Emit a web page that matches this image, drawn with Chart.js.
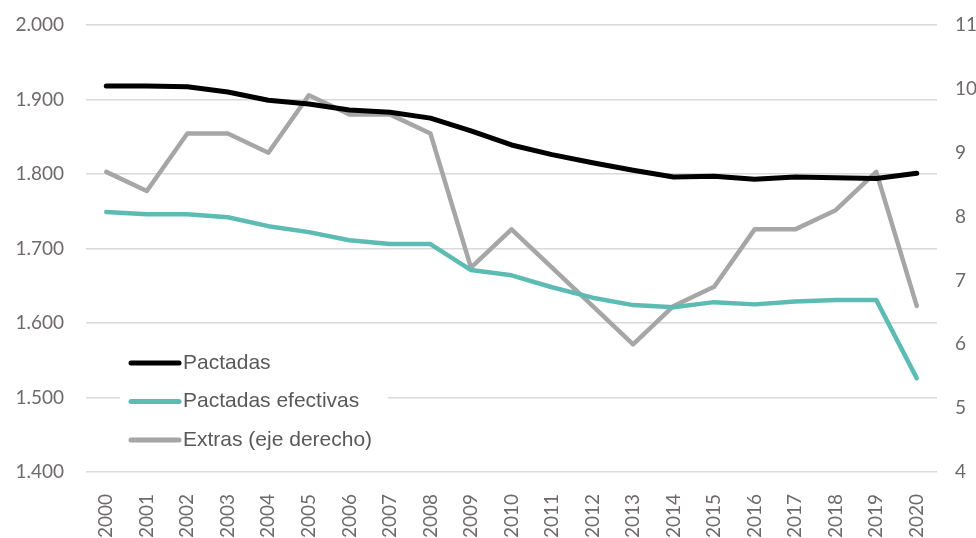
<!DOCTYPE html>
<html>
<head>
<meta charset="utf-8">
<script src="https://cdn.jsdelivr.net/npm/chart.js@4.4.1/dist/chart.umd.min.js"></script>
<style>
  html, body { margin: 0; padding: 0; background: #fff; overflow: hidden; }
  #wrap { width: 976px; height: 538px; overflow: hidden; }
</style>
</head>
<body>
<div id="wrap"><canvas id="chart" width="976" height="560"></canvas></div>
<script>
// Data
const years = ['2000','2001','2002','2003','2004','2005','2006','2007','2008','2009','2010',
               '2011','2012','2013','2014','2015','2016','2017','2018','2019','2020'];
const pactadas = [1918,1918,1917,1910,1899,1894,1886,1883,1875,1858,1839,
                  1826,1815,1805,1796,1797,1793,1796,1795,1794,1801];
const efectivas = [1749,1746,1746,1742,1730,1722,1711,1706,1706,1671,1664,
                   1648,1634,1624,1621,1628,1625,1629,1631,1631,1526];
const extras = [8.7,8.4,9.3,9.3,9.0,9.9,9.6,9.6,9.3,7.2,7.8,
                7.2,6.6,6.0,6.6,6.9,7.8,7.8,8.1,8.7,6.6];

const TICK_FONT = { family: 'Lato, "Noto Sans", sans-serif', size: 19 };
const TICK_COLOR = '#6e6a6a';

function fmtThousands(v) {
  const s = String(Math.round(v));
  return s.replace(/\B(?=(\d{3})+(?!\d))/g, '.');
}

/* ============================================================
   Legend drawn inside the plot area, lower left
   ============================================================ */
const insideLegend = {
  id: 'insideLegend',
  afterDatasetsDraw(chart) {
    const c = chart.ctx;
    const x0 = 120, top = 342;
    c.save();
    c.fillStyle = '#ffffff';
    c.fillRect(x0, top, 268, 118);
    c.font = '21px "Liberation Sans", Arial, sans-serif';
    c.textBaseline = 'middle';
    chart.data.datasets.forEach((ds, i) => {
      const y = 363 + i * 38.5;
      c.strokeStyle = ds.borderColor;
      c.lineWidth = 5;
      c.lineCap = 'round';
      c.beginPath();
      c.moveTo(131, y);
      c.lineTo(179, y);
      c.stroke();
      c.fillStyle = '#595959';
      c.fillText(ds.label, 183, y);
    });
    c.restore();
  }
};

new Chart(document.getElementById('chart'), {
  type: 'line',
  data: {
    labels: years,
    datasets: [
      { label: 'Pactadas', data: pactadas, borderColor: '#000000', borderWidth: 5, yAxisID: 'y' },
      { label: 'Pactadas efectivas', data: efectivas, borderColor: '#5cbcb3', borderWidth: 4.5, yAxisID: 'y' },
      { label: 'Extras (eje derecho)', data: extras, borderColor: '#a6a6a6', borderWidth: 4.5, yAxisID: 'y2' }
    ]
  },
  options: {
    responsive: false,
    devicePixelRatio: 1,
    animation: false,
    elements: { point: { radius: 0 }, line: { tension: 0, borderCapStyle: 'round', borderJoinStyle: 'round' } },
    layout: { padding: { top: 25, left: 0, right: 0, bottom: 0 } },
    plugins: { legend: { display: false }, tooltip: { enabled: false } },
    scales: {
      x: {
        offset: true,
        grid: { display: false },
        border: { display: false },
        ticks: { font: TICK_FONT, color: TICK_COLOR, minRotation: 90, maxRotation: 90, padding: 14, autoSkip: false },
        afterFit(scale) { scale.height = 88; }
      },
      y: {
        position: 'left',
        min: 1400, max: 2000,
        grid: { color: '#d9d9d9', lineWidth: 1.5, drawTicks: false },
        border: { display: false },
        ticks: { stepSize: 100, font: TICK_FONT, color: TICK_COLOR, padding: 22, callback: v => fmtThousands(v) },
        afterFit(scale) { scale.width = 86; scale.paddingTop = 0; scale.paddingBottom = 0; }
      },
      y2: {
        position: 'right',
        min: 4, max: 11,
        grid: { display: false, drawTicks: false },
        border: { display: false },
        ticks: { stepSize: 1, font: TICK_FONT, color: TICK_COLOR, padding: 18 },
        afterFit(scale) { scale.width = 39; scale.paddingTop = 0; scale.paddingBottom = 0; }
      }
    }
  },
  plugins: [insideLegend]
});
</script>
</body>
</html>
